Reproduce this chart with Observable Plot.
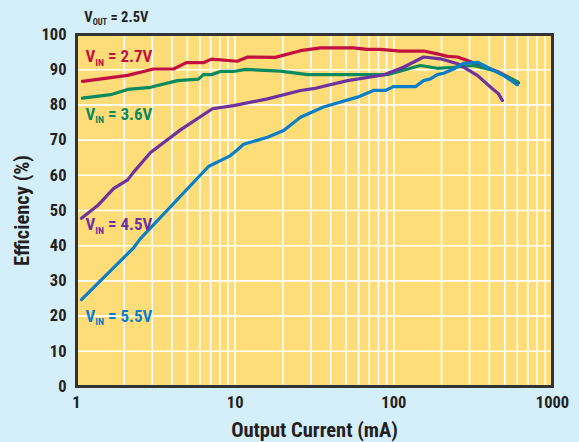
<!DOCTYPE html>
<html>
<head>
<meta charset="utf-8">
<script src="https://cdn.jsdelivr.net/npm/d3@7"></script>
<script src="https://cdn.jsdelivr.net/npm/@observablehq/plot@0.6"></script>
<style>
  html, body { margin: 0; padding: 0; background: #D4EEFA; }
  #chart { width: 579px; height: 442px; }
</style>
</head>
<body>
<div id="chart"></div>
<script>
// ---- data ----
const seriesNames = ["2.7V", "3.6V", "4.5V", "5.5V"];
const seriesColors = ["#C2103F", "#0B8A5E", "#6E329E", "#0A7EC6"];

const vin27Current = [1.09, 2.1, 3.06, 4.09, 4.93, 6.3, 7.1, 10.3, 12, 17.9, 25.8, 34.5, 55.6, 68, 82, 110, 154, 188, 218, 252, 291, 352, 450, 610];
const vin27Eff     = [86.7, 88.4, 90.2, 90.2, 92, 92, 93, 92.4, 93.6, 93.5, 95.4, 96.2, 96.2, 95.8, 95.8, 95.3, 95.3, 94.5, 93.8, 93.6, 92.6, 91.2, 89.5, 86.3];

const vin36Current = [1.09, 1.64, 2.1, 2.93, 4.33, 5.87, 6.3, 7.1, 8.08, 9.76, 11.6, 19.3, 28.6, 91, 147, 188, 238, 318, 424, 601];
const vin36Eff     = [81.9, 82.9, 84.4, 85.0, 86.9, 87.3, 88.6, 88.6, 89.5, 89.5, 90.1, 89.6, 88.6, 88.6, 91.2, 90.4, 90.7, 91.2, 89.8, 86.6];

const vin45Current = [1.075, 1.36, 1.71, 2.1, 2.29, 2.93, 4.52, 7.19, 9.76, 16, 25.8, 31.1, 51, 86, 115, 154, 197, 252, 336, 418, 456, 483];
const vin45Eff     = [47.8, 51.4, 56.2, 58.7, 60.9, 66.5, 72.9, 78.9, 79.8, 81.7, 84.1, 84.6, 86.9, 88.5, 90.7, 93.6, 93.1, 91.7, 88.4, 84.6, 83.2, 81.3];

const vin55Current = [1.075, 2.29, 2.53, 6.79, 9.34, 10.3, 11.3, 16, 20.2, 25.8, 36, 59, 74.4, 88.5, 99.4, 137, 154, 170, 188, 206, 238, 275, 336, 389, 491, 601];
const vin55Eff     = [24.7, 39.4, 42, 62.5, 65.6, 67.2, 68.8, 70.8, 72.7, 76.5, 79.4, 82.2, 84.1, 84.1, 85.2, 85.2, 86.9, 87.4, 88.6, 89, 90.2, 91.8, 92.1, 90.7, 88.4, 85.7];

const xTicks = [1, 10, 100, 1000];
const yTicks = [0, 10, 20, 30, 40, 50, 60, 70, 80, 90, 100];
const xGrid = [2,3,4,5,6,7,8,9,10,20,30,40,50,60,70,80,90,100,200,300,400,500,600,700,800,900];
const yGrid = [10,20,30,40,50,60,70,80,90];

// curve labels
const labelText   = ["IN = 2.7V", "IN = 3.6V", "IN = 4.5V", "IN = 5.5V"];
const labelX      = [1.14, 1.14, 1.14, 1.14];
const labelY      = [93.6, 77.4, 45.9, 20.0];
const titleText   = "OUT = 2.5V";
const titleX      = 1.12;
const titleY      = 104.8;

// ---- build tables ----
const currents = [vin27Current, vin36Current, vin45Current, vin55Current];
const effs = [vin27Eff, vin36Eff, vin45Eff, vin55Eff];
const lineData = seriesNames.flatMap((s, i) => currents[i].map((c, j) => ({series: s, current: c, eff: effs[i][j]})));
const labelData = seriesNames.map((s, i) => ({series: s, text: "V" + labelText[i], x: labelX[i], y: labelY[i]}));

const FONT = "'Roboto Condensed', Roboto, 'Liberation Sans', sans-serif";
const INK = "#231F20";

const chart = Plot.plot({
  width: 579,
  height: 442,
  marginLeft: 76,
  marginRight: 27,
  marginTop: 34,
  marginBottom: 56,
  style: {background: "#D4EEFA", fontFamily: FONT, fontStretch: "condensed", fontWeight: "bold", color: INK, overflow: "visible"},
  x: {type: "log", domain: [1, 1000]},
  y: {domain: [0, 100]},
  color: {domain: seriesNames, range: seriesColors},
  marks: [
    Plot.frame({fill: "#FEDC78"}),
    Plot.ruleX(xGrid, {stroke: "white", strokeWidth: 1.6}),
    Plot.ruleY(yGrid, {stroke: "white", strokeWidth: 1.6}),
    Plot.line(lineData, {x: "current", y: "eff", z: "series", stroke: "series", strokeWidth: 3.2, strokeLinejoin: "round"}),
    Plot.frame({stroke: "#333", strokeWidth: 3}),
    Plot.axisX({ticks: xTicks, tickFormat: d => String(d), tickSize: 0, tickPadding: 10, fontSize: 16.5, fontWeight: "bold",
      label: "Output Current (mA)", labelAnchor: "center", labelArrow: "none", labelOffset: 50}),
    Plot.axisY({ticks: yTicks, tickSize: 0, tickPadding: 10, fontSize: 16.5, fontWeight: "bold",
      label: "Efficiency (%)", labelAnchor: "center", labelArrow: "none", labelOffset: 62}),
    Plot.text(labelData, {x: "x", y: "y", text: "text", fill: "series", textAnchor: "start", fontSize: 17, fontWeight: "bold"}),
    Plot.text([titleText], {x: () => titleX, y: () => titleY, text: d => "V" + d, fill: INK, textAnchor: "start", fontSize: 14.5, fontWeight: "bold"})
  ]
});

document.getElementById("chart").appendChild(chart);

// style axis titles & subscripts
d3.select(chart).selectAll("g[aria-label='x-axis label'] text, g[aria-label='y-axis label'] text")
  .attr("font-size", 20.5).attr("font-weight", "bold");

d3.select(chart).selectAll("text").each(function() {
  const t = this.textContent;
  const m = /^V(IN|OUT)( = .*)$/.exec(t);
  if (!m) return;
  const fs = parseFloat(this.getAttribute("font-size") || d3.select(this.parentNode).attr("font-size")) || 16;
  const sel = d3.select(this);
  sel.text(null);
  sel.append("tspan").text("V");
  sel.append("tspan").attr("dy", fs * 0.22).attr("font-size", fs * 0.58).text(m[1]);
  sel.append("tspan").attr("dy", -fs * 0.22).text(m[2]);
});
</script>
</body>
</html>
